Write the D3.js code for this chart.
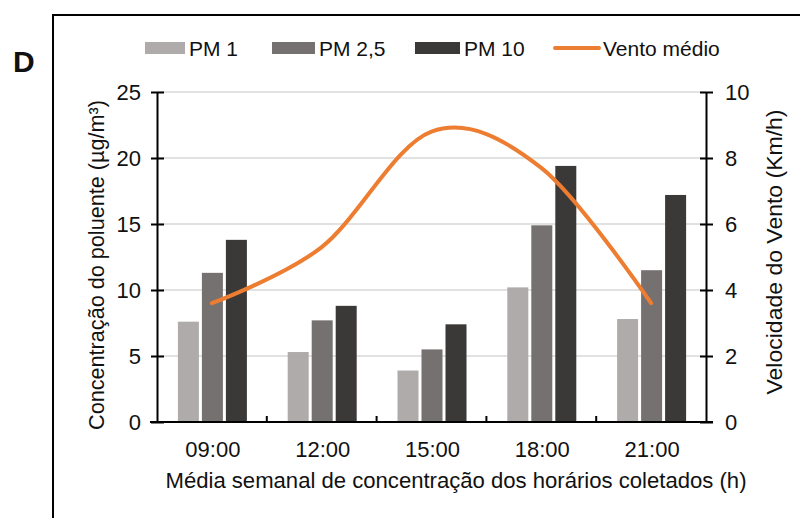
<!DOCTYPE html>
<meta charset="utf-8">
<html>
<head>
<style>
  body { margin: 0; background: #fff; }
  text { font-family: "Liberation Sans", Arial, sans-serif; fill: #111; }
</style>
</head>
<body>
<div id="chartContainer"></div>
<script src="https://cdn.jsdelivr.net/npm/d3@7"></script>
<script type="text/javascript">
  // data
  var horarios = ["09:00", "12:00", "15:00", "18:00", "21:00"];
  var seriesNames = ["PM 1", "PM 2,5", "PM 10"];
  var pm1 = [7.6, 5.3, 3.9, 10.2, 7.8];
  var pm25 = [11.3, 7.7, 5.5, 14.9, 11.5];
  var pm10 = [13.8, 8.8, 7.4, 19.4, 17.2];
  var vento = [3.6, 5.3, 8.8, 7.7, 3.6];
  var leftTicks = [0, 5, 10, 15, 20, 25];
  var rightTicks = [0, 2, 4, 6, 8, 10];

  var colors = ["#afabab", "#767171", "#3b3838"];
  var lineColor = "#ed7d31";

  var W = 800, H = 518;
  var svg = d3.select("#chartContainer").append("svg")
    .attr("width", W).attr("height", H);

  // panel frame (top + left edge)
  svg.append("path")
    .attr("d", "M53,518V15H800")
    .attr("fill", "none").attr("stroke", "#000").attr("stroke-width", 2);

  svg.append("text").attr("x", 13).attr("y", 72)
    .style("font-size", "30px").style("font-weight", "bold").text("D");

  // plot area (window.top is read-only, so no "top" here)
  var pLeft = 157, pRight = 706, pTop = 92, pBottom = 422;

  var x = d3.scaleBand().domain(horarios).range([pLeft, pRight]);
  var xInner = d3.scaleBand().domain(seriesNames)
    .range([x.bandwidth() / 2 - 34, x.bandwidth() / 2 + 35])
    .paddingInner(0.125);
  var y = d3.scaleLinear().domain([0, 25]).range([pBottom, pTop]);
  var y2 = d3.scaleLinear().domain([0, 10]).range([pBottom, pTop]);

  // gridlines
  svg.append("g").selectAll("line")
    .data(leftTicks.slice(1))
    .enter().append("line")
      .attr("x1", pLeft).attr("x2", pRight)
      .attr("y1", function (d) { return y(d); })
      .attr("y2", function (d) { return y(d); })
      .attr("stroke", "#d9d9d9").attr("stroke-width", 1.5);

  // bars
  var table = horarios.map(function (h, i) {
    return { h: h, vals: [pm1[i], pm25[i], pm10[i]] };
  });
  var groups = svg.append("g").selectAll("g")
    .data(table)
    .enter().append("g")
      .attr("transform", function (d) { return "translate(" + x(d.h) + ",0)"; });
  groups.selectAll("rect")
    .data(function (d) { return d.vals.map(function (v, k) { return { s: seriesNames[k], v: v, k: k }; }); })
    .enter().append("rect")
      .attr("x", function (d) { return xInner(d.s); })
      .attr("width", xInner.bandwidth())
      .attr("y", function (d) { return y(d.v); })
      .attr("height", function (d) { return pBottom - y(d.v); })
      .attr("fill", function (d) { return colors[d.k]; });

  // wind line (smoothed like excel)
  var line = d3.line()
    .x(function (d, i) { return x(horarios[i]) + x.bandwidth() / 2; })
    .y(function (d) { return y2(d); })
    .curve(d3.curveCatmullRom.alpha(0));
  svg.append("path")
    .datum(vento)
    .attr("d", line)
    .attr("fill", "none")
    .attr("stroke", lineColor)
    .attr("stroke-width", 4)
    .attr("stroke-linecap", "round");

  // left axis
  var yAxis = svg.append("g")
    .attr("transform", "translate(" + pLeft + ",0)")
    .call(d3.axisLeft(y).tickValues(leftTicks).tickSize(6).tickSizeOuter(0).tickPadding(10));
  yAxis.selectAll(".tick line").attr("x1", 7).attr("stroke-width", 2);
  yAxis.select(".domain").attr("stroke-width", 2);
  yAxis.selectAll("text").style("font-size", "22px").attr("fill", "#111");

  // right axis
  var y2Axis = svg.append("g")
    .attr("transform", "translate(" + pRight + ",0)")
    .call(d3.axisRight(y2).tickValues(rightTicks).tickSize(7).tickSizeOuter(0).tickPadding(12));
  y2Axis.selectAll(".tick line").attr("x1", -6).attr("stroke-width", 2);
  y2Axis.select(".domain").attr("stroke-width", 2);
  y2Axis.selectAll("text").style("font-size", "22px").attr("fill", "#111");

  // bottom axis: ticks between categories, pointing up
  svg.append("line")
    .attr("x1", pLeft - 7).attr("x2", pRight + 7)
    .attr("y1", pBottom).attr("y2", pBottom)
    .attr("stroke", "#000").attr("stroke-width", 2);
  svg.append("g").selectAll("line")
    .data(horarios.slice(1))
    .enter().append("line")
      .attr("x1", function (d) { return x(d); })
      .attr("x2", function (d) { return x(d); })
      .attr("y1", pBottom).attr("y2", pBottom - 6)
      .attr("stroke", "#000").attr("stroke-width", 2);
  svg.append("g").selectAll("text")
    .data(horarios)
    .enter().append("text")
      .attr("x", function (d) { return x(d) + x.bandwidth() / 2 + 1; })
      .attr("y", 457)
      .attr("text-anchor", "middle")
      .style("font-size", "22px")
      .text(function (d) { return d; });

  // axis titles
  svg.append("text")
    .attr("x", 456).attr("y", 488)
    .attr("text-anchor", "middle")
    .style("font-size", "22px")
    .attr("textLength", 581).attr("lengthAdjust", "spacingAndGlyphs")
    .text("Média semanal de concentração dos horários coletados (h)");
  svg.append("text")
    .attr("transform", "translate(104,265) rotate(-90)")
    .attr("text-anchor", "middle")
    .style("font-size", "22px")
    .attr("textLength", 330).attr("lengthAdjust", "spacingAndGlyphs")
    .text("Concentração do poluente (µg/m³)");
  svg.append("text")
    .attr("transform", "translate(782,252) rotate(-90)")
    .attr("text-anchor", "middle")
    .style("font-size", "22px")
    .attr("textLength", 285).attr("lengthAdjust", "spacingAndGlyphs")
    .text("Velocidade do Vento (Km/h)");

  // legend
  var legendX = [145, 272, 415];
  var legendW = [40, 43, 45];
  var leg = svg.append("g");
  seriesNames.forEach(function (s, i) {
    leg.append("rect")
      .attr("x", legendX[i]).attr("y", 42)
      .attr("width", legendW[i]).attr("height", 12)
      .attr("fill", colors[i]);
    leg.append("text")
      .attr("x", legendX[i] + legendW[i] + 4).attr("y", 56)
      .style("font-size", "21px")
      .text(s);
  });
  leg.append("line")
    .attr("x1", 555).attr("x2", 599).attr("y1", 48).attr("y2", 48)
    .attr("stroke", lineColor).attr("stroke-width", 4)
    .attr("stroke-linecap", "round");
  leg.append("text")
    .attr("x", 603).attr("y", 56)
    .style("font-size", "21px")
    .text("Vento médio");
</script>
</body>
</html>
